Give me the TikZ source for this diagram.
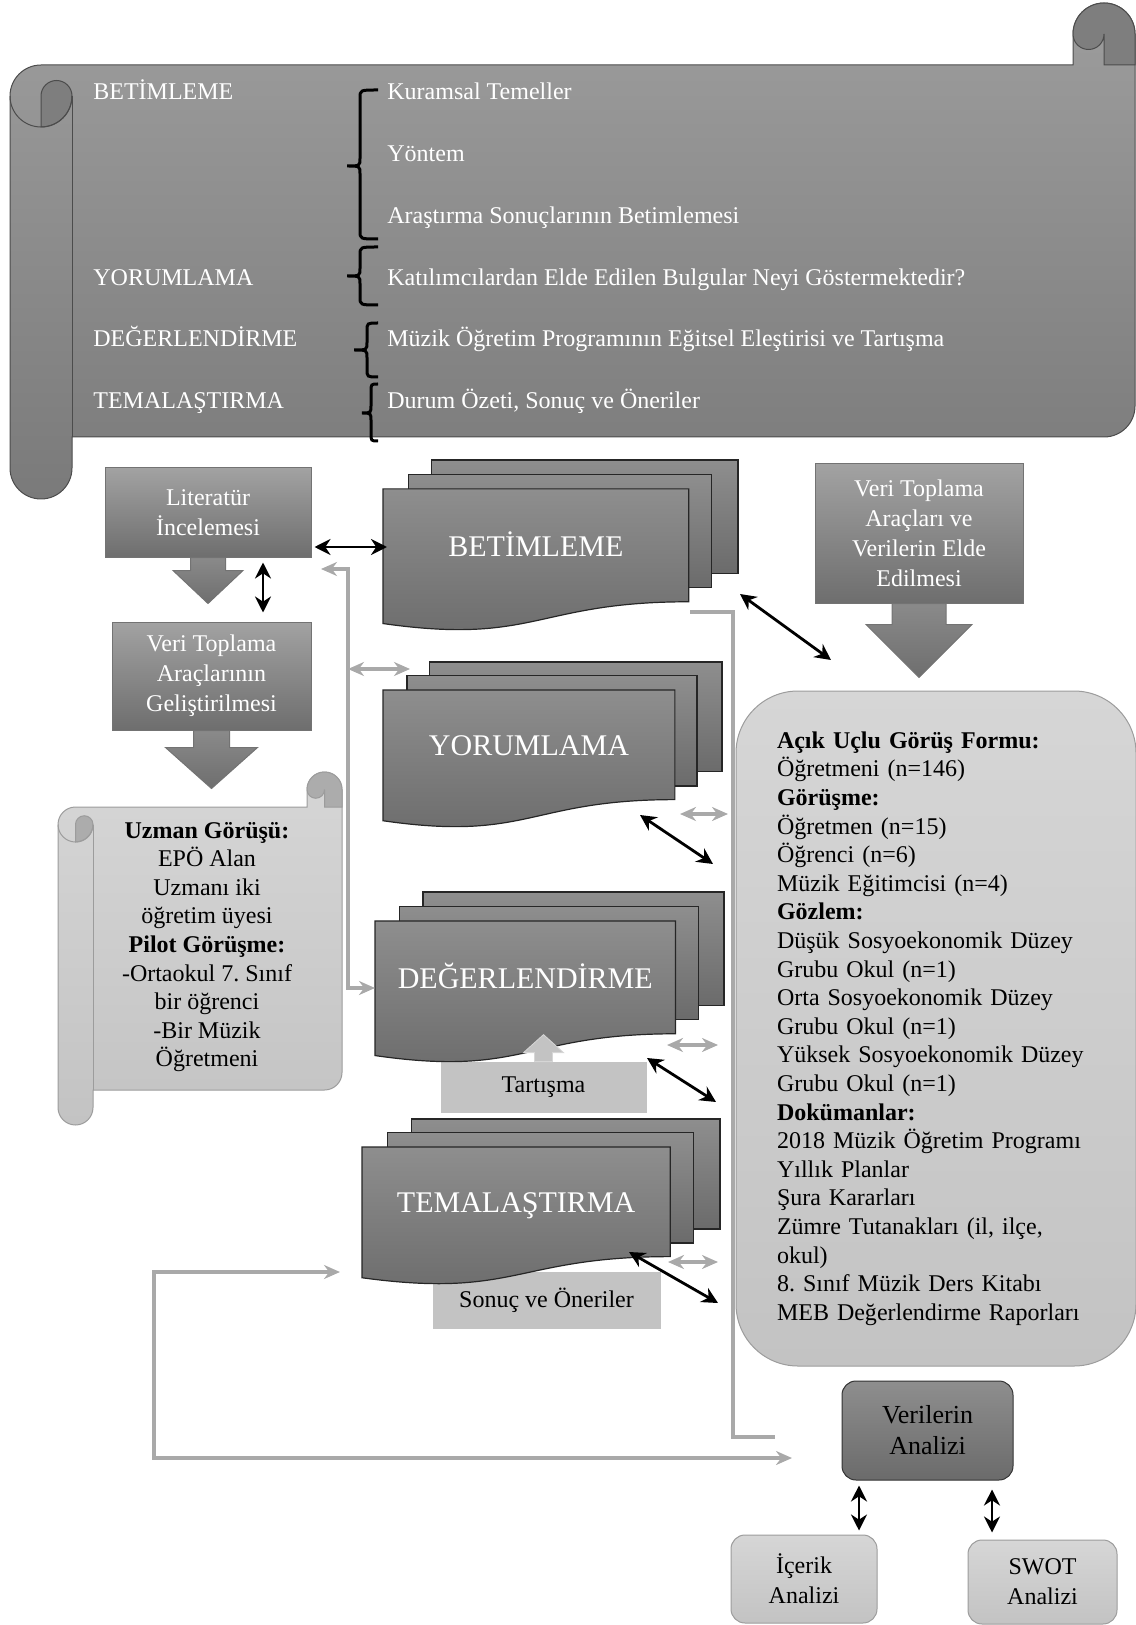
\documentclass[tikz,border=0pt]{standalone}
\usepackage{fontspec}
\setmainfont{Liberation Serif}
\usepackage{tikz}
\usetikzlibrary{positioning, arrows.meta}
\usepackage{xcolor}
\frenchspacing

\definecolor{scrollTop}{HTML}{9D9D9D}
\definecolor{scrollBot}{HTML}{7A7A7A}
\definecolor{curlDark}{HTML}{7E7E7E}
\definecolor{docTop}{HTML}{8E8E8E}
\definecolor{docBot}{HTML}{6B6B6B}
\definecolor{boxTop}{HTML}{A2A2A2}
\definecolor{boxMid}{HTML}{8A8A8A}
\definecolor{boxBot}{HTML}{6E6E6E}
\definecolor{paleTop}{HTML}{D6D6D6}
\definecolor{paleBot}{HTML}{C3C3C3}
\definecolor{paleCurl}{HTML}{ACACAC}
\definecolor{lineGray}{HTML}{A9A9A9}
\definecolor{edgeGray}{HTML}{9C9C9C}

\begin{document}
\begin{tikzpicture}[x=0.5pt, y=-0.5pt,
  every node/.style={font=\fontsize{12}{15}\selectfont},
  scrollbody/.style={draw=black!70, line width=0.5pt, top color=scrollTop, bottom color=scrollBot},
  scrollcurl/.style={draw=black!70, line width=0.5pt, fill=curlDark},
  palebody/.style={draw=edgeGray, line width=0.5pt, top color=paleTop, bottom color=paleBot},
  palecurl/.style={draw=edgeGray, line width=0.5pt, fill=paleCurl},
  docsheet/.style={draw=black!85, line width=0.6pt, top color=docTop, bottom color=docBot},
  doctext/.style={text=white, font=\fontsize{15}{18}\selectfont, anchor=base},
  scrolltext/.style={text=white, anchor=base west, inner sep=0pt},
  callbox/.style={draw=black!55, line width=0.5pt, top color=boxTop, bottom color=boxBot, text=white, align=center},
  callarrow/.style={draw=black!55, line width=0.5pt, top color=boxMid, bottom color=boxBot},
  flatbox/.style={fill=paleBot, draw=paleBot, align=center},
  roundbox/.style={rounded corners=7pt, draw=edgeGray, line width=0.5pt, top color=paleTop, bottom color=paleBot, align=center},
  bracepath/.style={draw=black, line width=1.5pt},
  gline/.style={draw=lineGray, line width=2pt},
  garrow/.style={gline, {Stealth[length=8pt,width=7pt]}-{Stealth[length=8pt,width=7pt]}},
  barrow/.style={draw=black, line width=1.4pt, {Stealth[length=8pt,width=8pt]}-{Stealth[length=8pt,width=8pt]}}
]
  \useasboundingbox (0,0) rectangle (1135,1625);

  % scroll: left, top, right, bottom, curl size, body style, curl style
  \def\drawscroll#1#2#3#4#5#6#7{%
    \pgfmathsetmacro\sh{#5/2}\pgfmathsetmacro\sq{#5/4}
    \draw[#6] (#1,#2+#5+\sh) arc[start angle=180, end angle=270, radius=\sh]
      -- (#3-#5,#2+#5) -- (#3-#5,#2+\sh) arc[start angle=180, end angle=360, radius=\sh]
      -- (#3,#4-#5-\sh) arc[start angle=0, end angle=90, radius=\sh]
      -- (#1+#5,#4-#5) -- (#1+#5,#4-\sh) arc[start angle=0, end angle=180, radius=\sh] -- cycle;
    \draw[#7] (#1+#5,#2+#5+\sh) arc[start angle=0, end angle=-180, radius=\sq]
      -- (#1+\sh,#2+2*#5) arc[start angle=90, end angle=0, radius=\sh] -- cycle;
    \draw[#7] (#3-#5,#2+\sh) arc[start angle=180, end angle=360, radius=\sh]
      -- (#3,#2+#5) -- (#3-\sh,#2+#5) -- (#3-\sh,#2+\sh)
      arc[start angle=0, end angle=180, radius=\sq] -- cycle;
    \draw[#7, fill=none] (#1,#2+#5+\sh) arc[start angle=180, end angle=0, radius=\sh];
    \draw[#7, fill=none] (#1+#5,#2+#5+\sh) -- (#1+#5,#4-#5);
  }
  % stacked documents: x, y, width, height
  \def\multidoc#1#2#3#4{%
    \draw[docsheet] (#1+0.1376*#3,#2) rectangle (#1+#3,#2+0.666*#4);
    \draw[docsheet] (#1+0.0709*#3,#2+0.084*#4) rectangle (#1+0.926*#3,#2+0.752*#4);
    \draw[docsheet] (#1,#2+0.17*#4) -- (#1+0.861*#3,#2+0.17*#4) -- (#1+0.861*#3,#2+0.834*#4)
      .. controls (#1+0.43*#3,#2+0.834*#4) and (#1+0.43*#3,#2+1.09*#4) .. (#1,#2+0.962*#4) -- cycle;
  }

  % top scroll
  \drawscroll{10}{3}{1135}{499}{62}{scrollbody}{scrollcurl}
  \foreach \t/\i in {BETİMLEME/0, YORUMLAMA/3, DEĞERLENDİRME/4, TEMALAŞTIRMA/5}
    \node[scrolltext] (stage\i) at (93,100+61.7*\i) {\t};
  \foreach \t [count=\i from 0] in {Kuramsal Temeller, Yöntem, Araştırma Sonuçlarının Betimlemesi,
      Katılımcılardan Elde Edilen Bulgular Neyi Göstermektedir?,
      Müzik Öğretim Programının Eğitsel Eleştirisi ve Tartışma, {Durum Özeti, Sonuç ve Öneriler}}
    \node[scrolltext] (sub\i) at (387,100+61.7*\i) {\t};
  \foreach \ya/\yb/\yc/\xt/\xs in {90/239/166/347/360, 247/305/276/347/360,
                                   323/377/350/354/367, 384/441/413/362/371}
    \draw[bracepath] (378,\ya) .. controls (\xs,\ya) .. (\xs,\ya+8) -- (\xs,\yc-8)
      .. controls (\xs,\yc) .. (\xt,\yc) .. controls (\xs,\yc) .. (\xs,\yc+8)
      -- (\xs,\yb-8) .. controls (\xs,\yb) .. (378,\yb);

  % left scroll
  \drawscroll{58}{772}{342}{1125}{35}{palebody}{palecurl}
  \node[align=center, font=\fontsize{12}{14.3}\selectfont] (uzman) at (207,947)
    {\textbf{Uzman Görüşü:}\\EPÖ Alan\\Uzmanı iki\\öğretim üyesi\\\textbf{Pilot Görüşme:}\\
     -Ortaokul 7. Sınıf\\bir öğrenci\\-Bir Müzik\\Öğretmeni};

  % boxes under the documents
  \node[flatbox, minimum width=102.5pt, minimum height=25pt] (tart) at (543.5,1087) {Tartışma};
  \node[flatbox, minimum width=113.5pt, minimum height=28pt] (sonuc) at (546.5,1300) {Sonuç ve Öneriler};

  % stacked documents
  \foreach \x/\y/\w/\h/\lab/\nm in {383/460/355/170/BETİMLEME/betim, 383/662/339/165/YORUMLAMA/yorum,
                                    375/892/349/170/DEĞERLENDİRME/degerl, 362/1119/358/165/TEMALAŞTIRMA/temal}{
    \multidoc{\x}{\y}{\w}{\h}
    \node[doctext] (\nm) at (\x+0.4305*\w,\y+0.5*\h+11) {\lab};
  }
  \draw[fill=paleBot, draw=paleTop] (tart.north) ++(-9,0) -- ++(0,-9) -- ++(-11,0) -- ++(20,-18)
    -- ++(20,18) -- ++(-11,0) -- ++(0,9) -- cycle;

  % callouts
  \node[callbox, minimum width=103pt, minimum height=44.5pt] (lit) at (208,512.5) {Literatür\\İncelemesi};
  \draw[callarrow] (lit.south) ++(-17.5,0) -- ++(0,13) -- ++(-17.5,0) -- ++(35,33) -- ++(35,-33)
    -- ++(-17.5,0) -- ++(0,-13) -- cycle;
  \node[callbox, minimum width=99.5pt, minimum height=54pt] (vtg) at (211.5,676)
    {Veri Toplama\\Araçlarının\\Geliştirilmesi};
  \draw[callarrow] (vtg.south) ++(-18,0) -- ++(0,17) -- ++(-28,0) -- ++(46,41) -- ++(46,-41)
    -- ++(-28,0) -- ++(0,-17) -- cycle;
  \node[callbox, minimum width=104pt, minimum height=69.5pt] (vte) at (919,533.5)
    {Veri Toplama\\Araçları ve\\Verilerin Elde\\Edilmesi};
  \draw[callarrow] (vte.south) ++(-27,0) -- ++(0,21) -- ++(-26,0) -- ++(53,53) -- ++(53,-53)
    -- ++(-26,0) -- ++(0,-21) -- cycle;

  % data sources and analysis
  \node[roundbox, rounded corners=31pt, minimum width=200pt, minimum height=337.5pt, align=left,
        text width=159pt, font=\fontsize{12}{14.3}\selectfont\frenchspacing] (veri) at (936,1028.5)
    {\textbf{Açık Uçlu Görüş Formu:}\\Öğretmeni (n=146)\\\textbf{Görüşme:}\\Öğretmen (n=15)\\
     Öğrenci (n=6)\\Müzik Eğitimcisi (n=4)\\\textbf{Gözlem:}\\Düşük Sosyoekonomik Düzey\\
     Grubu Okul (n=1)\\Orta Sosyoekonomik Düzey\\Grubu Okul (n=1)\\Yüksek Sosyoekonomik Düzey\\
     Grubu Okul (n=1)\\\textbf{Dokümanlar:}\\2018 Müzik Öğretim Programı\\Yıllık Planlar\\
     Şura Kararları\\Zümre Tutanakları (il, ilçe,\\okul)\\8.\ Sınıf Müzik Ders Kitabı\\
     MEB Değerlendirme Raporları};
  \node[roundbox, draw=black!80, top color=docTop, bottom color=docBot, minimum width=85.5pt,
        minimum height=49.5pt, font=\fontsize{13}{15.5}\selectfont] (analiz) at (927.5,1430.5) {Verilerin\\Analizi};
  \node[roundbox, minimum width=73pt, minimum height=44pt] (icerik) at (804,1579) {İçerik\\Analizi};
  \node[roundbox, minimum width=74.5pt, minimum height=42pt] (swot) at (1042.5,1582) {SWOT\\Analizi};

  % grey connectors
  \coordinate (litTip) at (321,569);
  \coordinate (degTip) at (375,988);
  \coordinate (yorTip) at (410,669);
  \coordinate (betOut) at (690,612);
  \coordinate (anaEnd) at (775,1437);
  \coordinate (temTip) at (340,1272);
  \coordinate (anaTip) at (792,1458);
  \draw[garrow] (litTip) -- (348,569) |- (degTip);
  \draw[garrow] (348,669) -- (yorTip);
  \draw[gline] (betOut) -| (733,1437) -- (anaEnd);
  \draw[garrow] (temTip) -- (154,1272) |- (anaTip);
  \foreach \ya/\xa/\xb in {814/680/728, 1045/667/718, 1262/668/718}
    \draw[garrow] (\xa,\ya) -- (\xb,\ya);

  % black connectors
  \coordinate (betW) at (387,547);
  \draw[barrow] ([xshift=1.5pt, yshift=-17.25pt]lit.east) -- (betW);
  \draw[barrow] ([xshift=27.5pt, yshift=-2.5pt]lit.south) -- ([xshift=25.75pt, yshift=4.5pt]vtg.north);
  \foreach \xa/\ya/\xb/\yb in {740/594/831/660, 640/815/713/864, 647/1058/716/1102, 629/1252/718/1303}
    \draw[barrow] (\xa,\ya) -- (\xb,\yb);
  \draw[barrow] ([xshift=-34.25pt, yshift=-2.5pt]analiz.south) -- ([xshift=27.5pt, yshift=2pt]icerik.north);
  \draw[barrow] ([xshift=32.25pt, yshift=-4.5pt]analiz.south) -- ([xshift=-25.25pt, yshift=3.5pt]swot.north);
\end{tikzpicture}
\end{document}
